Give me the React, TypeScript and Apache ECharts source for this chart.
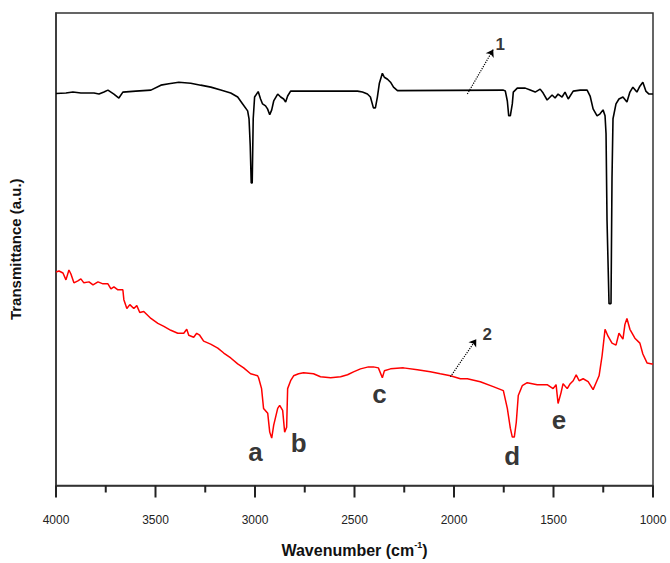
import React, { useEffect, useRef } from "react";
import * as echarts from "echarts";

// Spectrum 1 (black)
const wn1 = [4000, 3950, 3915, 3875, 3809, 3784, 3759, 3739, 3709, 3684, 3664, 3599, 3523, 3473, 3433, 3383, 3323, 3273, 3222, 3172, 3122, 3087, 3062, 3037, 3030, 3024, 3019, 3014, 3009, 3002, 2984, 2972, 2962, 2947, 2937, 2926, 2916, 2906, 2886, 2871, 2856, 2846, 2836, 2821, 2485, 2460, 2435, 2420, 2405, 2395, 2385, 2375, 2360, 2350, 2334, 2319, 2304, 2284, 1752, 1742, 1732, 1725, 1717, 1707, 1702, 1682, 1642, 1617, 1592, 1567, 1552, 1532, 1507, 1492, 1477, 1457, 1442, 1426, 1401, 1366, 1331, 1316, 1301, 1281, 1266, 1251, 1241, 1236, 1231, 1221, 1211, 1206, 1201, 1186, 1171, 1151, 1131, 1116, 1101, 1081, 1066, 1051, 1036, 1020, 1000];
const t1 = [396.5, 397, 398, 397, 397, 396, 398, 400, 396, 392, 398, 399, 400, 405, 406.5, 408, 407, 405, 403, 400, 397, 393, 386, 379, 371, 344, 306, 306, 371, 393, 398.5, 391, 386, 384, 381, 375, 380, 389, 396, 393, 391, 388, 394, 399, 399, 398, 396, 393, 382, 382, 393, 407, 417, 413, 411, 408, 403, 399.5, 400, 399, 389, 374, 374, 386, 398, 402, 402, 400, 398, 401, 397, 390, 395, 392, 396, 393, 398, 391, 399, 400, 400, 394, 381, 374, 376, 380, 374, 356, 268, 184, 184, 311, 371, 386, 391, 393, 388, 398, 403, 398, 404, 408, 399, 396, 396];

// Spectrum 2 (red)
const wn2 = [4000, 3985, 3965, 3950, 3935, 3925, 3910, 3890, 3875, 3860, 3834, 3814, 3789, 3764, 3739, 3724, 3709, 3689, 3664, 3659, 3644, 3629, 3609, 3594, 3579, 3559, 3523, 3488, 3458, 3423, 3388, 3358, 3343, 3333, 3308, 3293, 3278, 3258, 3223, 3187, 3157, 3122, 3087, 3057, 3022, 2987, 2982, 2967, 2957, 2936, 2926, 2916, 2906, 2886, 2876, 2861, 2851, 2841, 2836, 2821, 2806, 2781, 2756, 2706, 2671, 2620, 2570, 2535, 2505, 2470, 2430, 2405, 2380, 2360, 2350, 2319, 2254, 2184, 2119, 2069, 2018, 1968, 1933, 1868, 1803, 1752, 1732, 1717, 1707, 1697, 1687, 1677, 1657, 1632, 1582, 1532, 1502, 1487, 1477, 1462, 1452, 1431, 1416, 1401, 1386, 1371, 1351, 1326, 1301, 1286, 1271, 1256, 1241, 1226, 1206, 1186, 1171, 1151, 1141, 1131, 1116, 1091, 1066, 1051, 1030, 1005, 1000];
const t2 = [216, 217, 215, 208, 218, 214, 205, 207, 209, 205, 206, 203, 206, 204, 204, 199, 201, 198, 198, 188, 179, 183, 179, 182, 175, 176, 169, 164, 161, 157, 154, 154, 158, 152, 150, 154, 152, 146, 143, 139, 134, 129, 123, 119, 113, 111, 109, 98, 78, 73, 54, 48, 61, 78, 81, 76, 54, 59, 98, 106, 111, 113, 114, 113, 110, 109, 110, 112, 115, 118, 120, 120, 119, 109, 116, 118, 119, 117, 115, 113, 111, 108, 108, 105, 100, 96, 78, 58, 49, 49, 64, 91, 101, 104, 102, 102, 98, 102, 83, 94, 103, 98, 103, 106, 112, 106, 108, 105, 97, 104, 111, 131, 158, 151, 144, 142, 154, 148, 163, 169, 158, 149, 144, 133, 124, 123, 123];

// Peak annotations
const peakNames = ["a", "b", "c", "d", "e"];
const peakWn = [2997, 2781, 2375, 1707, 1472];
const peakY = [34, 43, 93, 30, 66];

// Curve number labels
const curveNames = ["1", "2"];
const curveWn = [1768, 1833];
const curveY = [446, 153];

// Arrows: start and end points
const arrowStartWn = [1933, 2018];
const arrowStartY = [396, 110];
const arrowEndWn = [1803, 1888];
const arrowEndY = [441, 148];

// Tick settings
const xMin = 1000;
const xMax = 4000;
const xStep = 500;
const majorTicks = [1000, 1500, 2000, 2500, 3000, 3500, 4000];
const minorTicks = [1250, 1750, 2250, 2750, 3250, 3750];

export default function App() {
  const ref = useRef<HTMLDivElement>(null);
  useEffect(() => {
    if (!ref.current) return;
    const chart = echarts.init(ref.current, null, { renderer: "svg" });
    const font = "Liberation Sans, Arial, sans-serif";
    const toPairs = (xs: number[], ys: number[]) => xs.map((x, i) => [x, ys[i]]);
    chart.setOption({
      animation: false,
      backgroundColor: "#ffffff",
      grid: {
        left: 55,
        right: 17,
        top: 13,
        bottom: 72,
        show: true,
        borderColor: "#333333",
        borderWidth: 1.5,
      },
      xAxis: {
        type: "value",
        inverse: true,
        min: xMin,
        max: xMax,
        interval: xStep,
        name: "Wavenumber (cm{sup|-1})",
        nameLocation: "middle",
        nameGap: 55,
        nameTextStyle: {
          fontFamily: font,
          fontWeight: "bold",
          fontSize: 16,
          color: "#111",
          rich: {
            sup: {
              fontFamily: font,
              fontWeight: "bold",
              fontSize: 9,
              color: "#111",
              verticalAlign: "top",
              padding: [0, 0, 10, 0],
            },
          },
        },
        axisLine: { show: true, onZero: false, lineStyle: { color: "#333", width: 1.5 } },
        axisTick: { show: false },
        splitLine: { show: false },
        axisLabel: {
          fontFamily: font,
          fontSize: 12,
          color: "#222",
          margin: 28,
          formatter: (v: number) => String(v),
        },
      },
      yAxis: {
        type: "value",
        min: 0,
        max: 478,
        name: "Transmittance (a.u.)",
        nameLocation: "middle",
        nameGap: 33,
        nameRotate: 90,
        nameTextStyle: { fontFamily: font, fontWeight: "bold", fontSize: 15, color: "#111" },
        axisLine: { show: true, lineStyle: { color: "#333", width: 1.5 } },
        axisTick: { show: false },
        axisLabel: { show: false },
        splitLine: { show: false },
      },
      series: [
        {
          type: "line",
          data: toPairs(wn1, t1),
          showSymbol: false,
          symbol: "none",
          lineStyle: { color: "#000000", width: 1.6 },
          silent: true,
        },
        {
          type: "line",
          data: toPairs(wn2, t2),
          showSymbol: false,
          symbol: "none",
          lineStyle: { color: "#ff0000", width: 1.5 },
          silent: true,
          markLine: {
            silent: true,
            animation: false,
            symbol: ["none", "arrow"],
            symbolSize: 7,
            label: { show: false },
            lineStyle: { color: "#000", width: 1.2, type: "dotted" },
            data: arrowStartWn.map((w, i) => [
              { coord: [w, arrowStartY[i]] },
              { coord: [arrowEndWn[i], arrowEndY[i]] },
            ]),
          },
        },
        {
          type: "scatter",
          symbolSize: 0,
          silent: true,
          data: peakNames.map((n, i) => ({ name: n, value: [peakWn[i], peakY[i]] })),
          label: {
            show: true,
            position: "inside",
            formatter: (p: any) => p.name,
            fontFamily: font,
            fontWeight: "bold",
            fontSize: 26,
            color: "#000",
          },
        },
        {
          type: "scatter",
          symbolSize: 0,
          silent: true,
          data: curveNames.map((n, i) => ({ name: n, value: [curveWn[i], curveY[i]] })),
          label: {
            show: true,
            position: "inside",
            formatter: (p: any) => p.name,
            fontFamily: font,
            fontWeight: "bold",
            fontSize: 17,
            color: "#000",
          },
        },
      ],
    });

    // Axis tick marks drawn below the x axis, positioned through the axis scale
    const yBottom = chart.convertToPixel({ yAxisIndex: 0 }, 0) as number;
    const tickLines: any[] = [];
    const addTick = (v: number, len: number) => {
      const x = chart.convertToPixel({ xAxisIndex: 0 }, v) as number;
      tickLines.push({
        type: "rect",
        silent: true,
        z: 100,
        shape: { x: x - 1, y: yBottom, width: 2, height: len },
        style: { fill: "#222" },
      });
    };
    majorTicks.forEach((v) => addTick(v, 12));
    minorTicks.forEach((v) => addTick(v, 7));
    chart.setOption({ graphic: { elements: tickLines } });

    return () => chart.dispose();
  }, []);
  return (
    <div
      ref={ref}
      style={{ position: "fixed", left: 0, top: 0, width: 670, height: 563, background: "#fff" }}
    />
  );
}
